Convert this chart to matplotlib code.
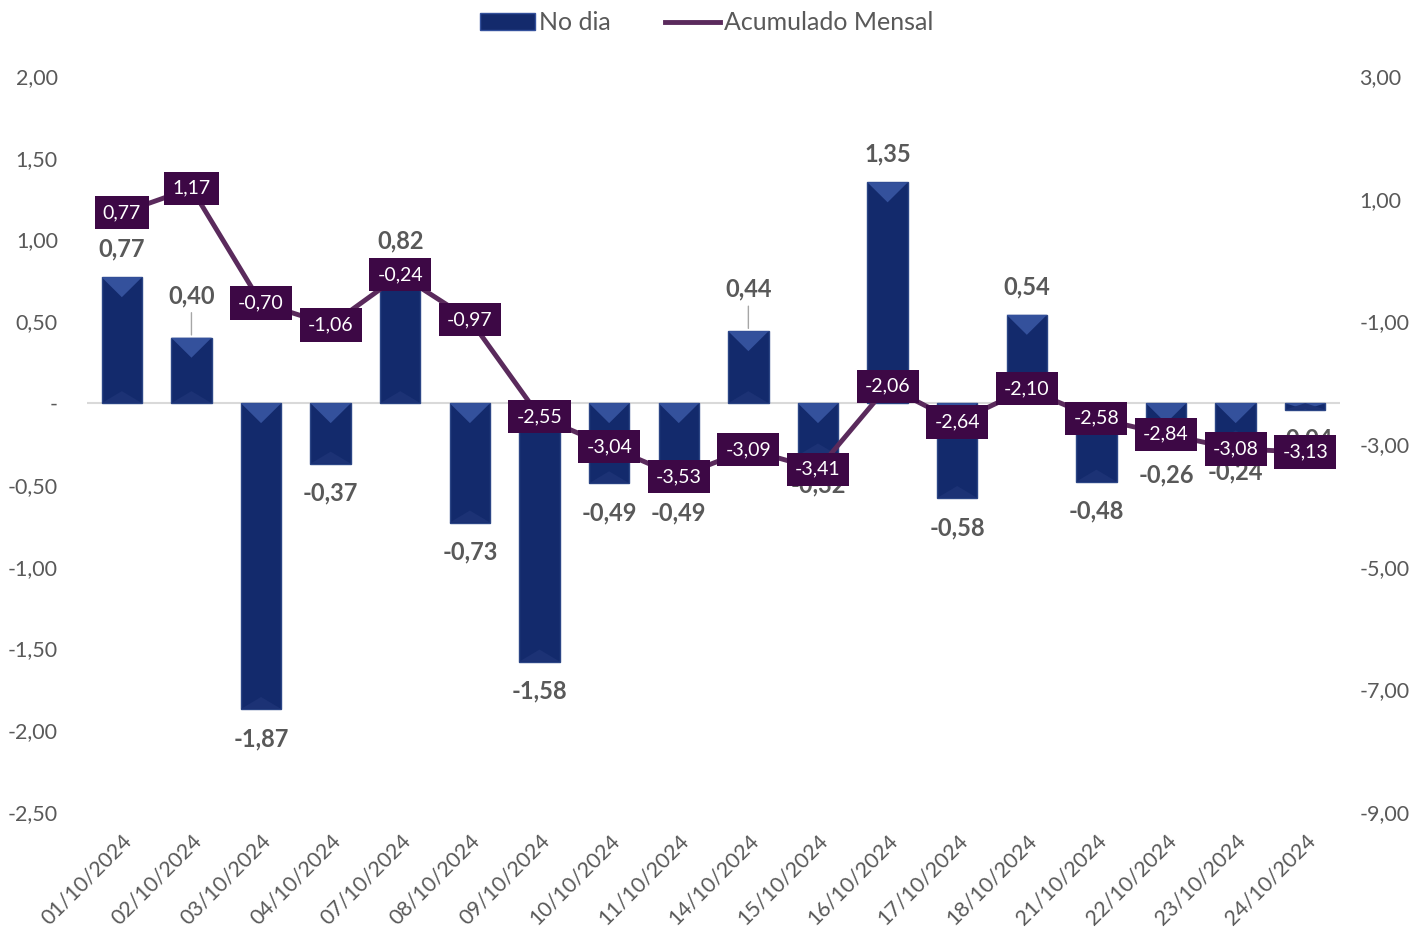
import matplotlib
matplotlib.use('Agg')
from matplotlib import pyplot as plt
from matplotlib.patches import Polygon
from matplotlib.lines import Line2D
from matplotlib.patches import Patch

# dados
datas = ['01/10/2024', '02/10/2024', '03/10/2024', '04/10/2024', '07/10/2024',
         '08/10/2024', '09/10/2024', '10/10/2024', '11/10/2024', '14/10/2024',
         '15/10/2024', '16/10/2024', '17/10/2024', '18/10/2024', '21/10/2024',
         '22/10/2024', '23/10/2024', '24/10/2024']
no_dia = [0.77, 0.40, -1.87, -0.37, 0.82, -0.73, -1.58, -0.49, -0.49, 0.44,
          -0.32, 1.35, -0.58, 0.54, -0.48, -0.26, -0.24, -0.04]
acumulado = [0.77, 1.17, -0.70, -1.06, -0.24, -0.97, -2.55, -3.04, -3.53, -3.09,
             -3.41, -2.06, -2.64, -2.10, -2.58, -2.84, -3.08, -3.13]

cinza = '#595959'
azul = '#132A6C'
roxo = '#5A2A5C'
caixa = '#3D0845'

plt.rcParams['font.family'] = ['Lato', 'DejaVu Sans']

def fmt(v):
    return ('%.2f' % v).replace('.', ',')

fig = plt.figure(figsize=(14.22, 9.34), dpi=100)
ax = fig.add_axes([0.0612, 0.1306, 0.8812, 0.788])
ax2 = ax.twinx()

x = list(range(len(datas)))
largura = 0.58
ax.set_xlim(-0.5, len(datas) - 0.5)
ax.set_ylim(-2.5, 2.0)
ax2.set_ylim(-9, 3)

# barras
ax.bar(x, no_dia, width=largura, color=azul, edgecolor='#2B4585', linewidth=1.0, zorder=2)

# efeito de chanfro (triangulo no topo e na base)
px_y = ax.get_position().height * fig.get_figheight() * fig.dpi / 4.5
prof = 20 / px_y
for i, v in enumerate(no_dia):
    topo = max(v, 0)
    d = min(prof, abs(v))
    tri = Polygon([[i - largura / 2, topo], [i + largura / 2, topo], [i, topo - d]],
                  closed=True, facecolor='#34519C', edgecolor='none', zorder=3)
    ax.add_patch(tri)
    base = min(v, 0)
    d2 = min(prof * 0.6, abs(v))
    tri2 = Polygon([[i - largura / 2, base], [i + largura / 2, base], [i, base + d2]],
                   closed=True, facecolor='#1C3275', edgecolor='none', zorder=3)
    ax.add_patch(tri2)

ax.axhline(0, color='#D9D9D9', linewidth=1.5, zorder=1)

# rotulos das barras
for i, v in enumerate(no_dia):
    if i in (1, 9):
        ax.annotate(fmt(v), (i, v), xytext=(0, 22), textcoords='offset points',
                    ha='center', va='bottom', fontsize=17, fontweight='bold', color=cinza,
                    arrowprops=dict(arrowstyle='-', color='#A6A6A6', lw=1, shrinkA=2, shrinkB=2),
                    zorder=4)
    elif v >= 0:
        ax.annotate(fmt(v), (i, v), xytext=(0, 12), textcoords='offset points',
                    ha='center', va='bottom', fontsize=17, fontweight='bold', color=cinza, zorder=4)
    else:
        ax.annotate(fmt(v), (i, v), xytext=(0, -13), textcoords='offset points',
                    ha='center', va='top', fontsize=17, fontweight='bold', color=cinza, zorder=4)

# linha acumulada
ax2.plot(x, acumulado, color=roxo, linewidth=3.5, zorder=5, solid_capstyle='round')
for i, v in enumerate(acumulado):
    ax2.text(i, v, fmt(v), ha='center', va='center', fontsize=14, color='white', zorder=6,
             bbox=dict(boxstyle='square,pad=0.42', facecolor=caixa, edgecolor='none'))
ax2.set_zorder(ax.get_zorder() + 1)
ax2.patch.set_visible(False)

# eixos
ax.set_xticks(x)
ax.set_xticklabels(datas, rotation=45, ha='right', rotation_mode='anchor', fontsize=15.5, color=cinza)
ax.tick_params(axis='x', length=0, pad=13)
yt = [-2.5, -2.0, -1.5, -1.0, -0.5, 0, 0.5, 1.0, 1.5, 2.0]
ax.set_yticks(yt)
ax.set_yticklabels(['-' if t == 0 else fmt(t) for t in yt], fontsize=15.5, color=cinza)
ax.tick_params(axis='y', length=0, pad=21)
yt2 = [-9, -7, -5, -3, -1, 1, 3]
ax2.set_yticks(yt2)
ax2.set_yticklabels([fmt(t) for t in yt2], fontsize=15.5, color=cinza)
ax2.tick_params(axis='y', length=0, pad=14)
for a in (ax, ax2):
    for s in a.spines.values():
        s.set_visible(False)

# legenda
itens = [Patch(facecolor=azul, edgecolor='#34519C'),
         Line2D([0], [0], color=roxo, linewidth=3.5)]
fig.legend(itens, ['No dia', 'Acumulado Mensal'], loc='upper center', bbox_to_anchor=(0.497, 1.012),
           ncol=2, frameon=False, fontsize=18, labelcolor=cinza, handlelength=2.2,
           handletextpad=0.15, columnspacing=2.2)

plt.savefig('out.png', dpi=100)
